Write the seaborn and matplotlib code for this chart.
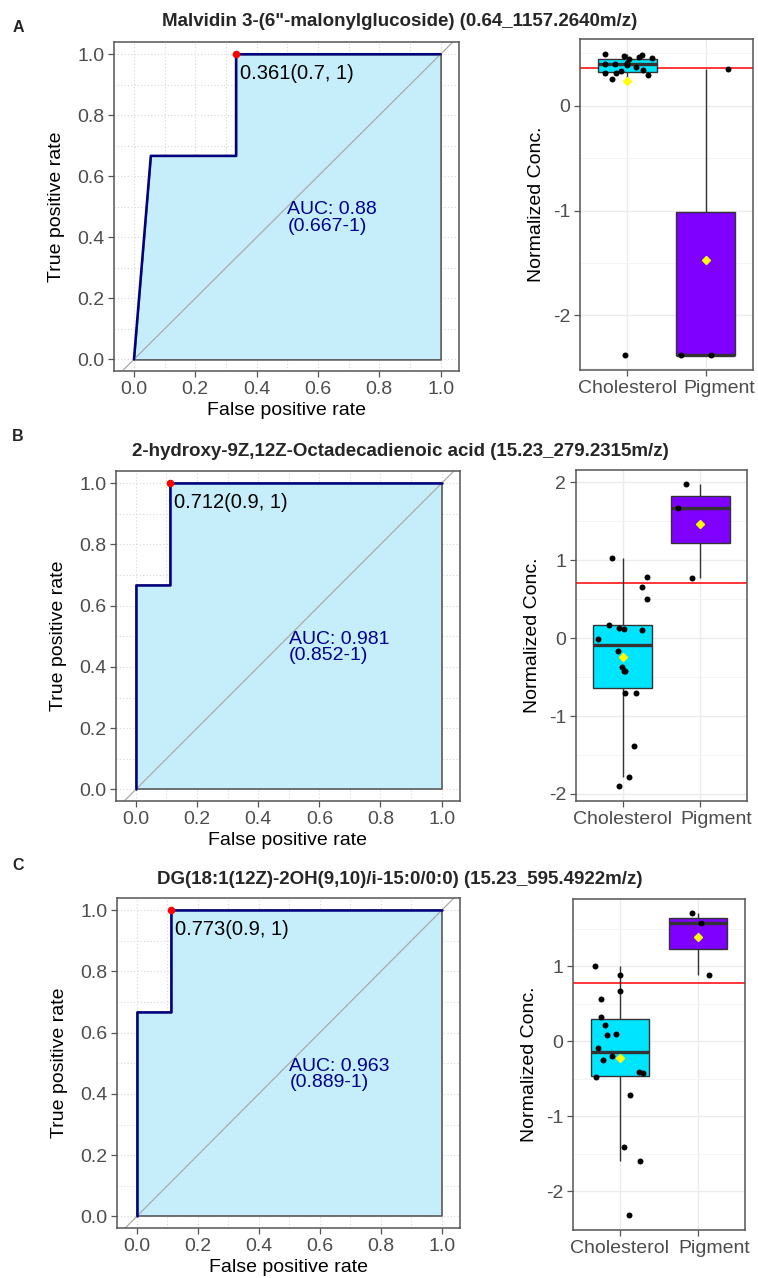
import numpy as np
import pandas as pd
import matplotlib
matplotlib.use("Agg")
import matplotlib.pyplot as plt
import matplotlib.transforms as mtransforms
import seaborn as sns
from matplotlib.ticker import MultipleLocator

# ---- data ----
titles = [
    'Malvidin 3-(6"-malonylglucoside) (0.64_1157.2640m/z)',
    "2-hydroxy-9Z,12Z-Octadecadienoic acid (15.23_279.2315m/z)",
    "DG(18:1(12Z)-2OH(9,10)/i-15:0/0:0) (15.23_595.4922m/z)",
]
panel_letters = ["A", "B", "C"]
groups = ["Cholesterol", "Pigment"]

# ROC curves (false positive rate, true positive rate)
fpr_a = [0.0, 0.055, 0.333, 0.333, 1.0]
tpr_a = [0.0, 0.667, 0.667, 1.0, 1.0]
fpr_b = [0.0, 0.0, 0.111, 0.111, 1.0]
tpr_b = [0.0, 0.667, 0.667, 1.0, 1.0]
fpr_c = [0.0, 0.0, 0.111, 0.111, 1.0]
tpr_c = [0.0, 0.667, 0.667, 1.0, 1.0]

best_fpr = [0.333, 0.111, 0.111]
best_labels = ["0.361(0.7, 1)", "0.712(0.9, 1)", "0.773(0.9, 1)"]
auc_labels = ["AUC: 0.88\n(0.667-1)", "AUC: 0.981\n(0.852-1)", "AUC: 0.963\n(0.889-1)"]
cutoffs = [0.361, 0.712, 0.773]

# normalized concentrations
chol_a = [0.49, 0.48, 0.47, 0.46, 0.45, 0.44, 0.41, 0.40, 0.40, 0.39, 0.365,
          0.34, 0.33, 0.315, 0.31, 0.29, 0.255, -2.38]
pig_a = [0.35, -2.38, -2.38]
chol_b = [0.66, 0.50, 0.107, 0.12, 0.176, -0.01, 0.137, -0.163, -0.42, -0.368,
          -0.42, -0.707, -0.707, -1.39, -1.786, -1.90, 1.036, 0.788]
pig_b = [0.771, 1.979, 1.666]
chol_c = [1.0, 0.889, 0.671, 0.56, 0.32, 0.218, 0.102, 0.089, -0.093, -0.2,
          -0.253, -0.413, -0.427, -0.48, -0.716, -1.409, -1.60, -2.32]
pig_c = [1.573, 0.884, 1.707]

roc_data = [(fpr_a, tpr_a), (fpr_b, tpr_b), (fpr_c, tpr_c)]
box_data = [(chol_a, pig_a), (chol_b, pig_b), (chol_c, pig_c)]
box_ylims = [(-2.52, 0.635), (-2.09, 2.16), (-2.516, 1.898)]
box_yticks = [[-2, -1, 0], [-2, -1, 0, 1, 2], [-2, -1, 0, 1]]

sns.set_theme(style="white")
plt.rcParams["font.family"] = ["Liberation Sans", "DejaVu Sans"]
plt.rcParams["axes.unicode_minus"] = False

W, H = 758, 1278
fig = plt.figure(figsize=(W / 100, H / 100), dpi=100)


def rect(l, t, r, b):
    return [l / W, 1 - b / H, (r - l) / W, (b - t) / H]


roc_rects = [(114, 42, 459, 371), (116, 471, 460, 801), (117, 898, 460, 1228)]
box_rects = [(580, 39, 753, 370), (576, 470, 747, 801), (573, 899, 745, 1230)]
title_y = [22, 451, 879]
letter_y = [28, 437, 866]
pig_shift = [13, 16, 16]

tick_gray = "#4D4D4D"
frame_gray = "#555555"

for i in range(3):
    # ---------- ROC panel ----------
    ax = fig.add_axes(rect(*roc_rects[i]))
    fpr, tpr = roc_data[i]
    ax.set_xlim(-0.065, 1.06)
    ax.set_ylim(-0.038, 1.04)
    ax.xaxis.set_minor_locator(MultipleLocator(0.1))
    ax.yaxis.set_minor_locator(MultipleLocator(0.1))
    ax.grid(True, which="both", color="#D6D6D6", linestyle=(0, (1, 2)), linewidth=0.8)
    ax.set_axisbelow(True)
    ax.fill_between(fpr, tpr, 0, color="#C5EEFA", edgecolor="#5A5A5A", linewidth=1.2, zorder=1)
    ax.axline((0, 0), (1, 1), color="#AAAAAA", linewidth=0.9, zorder=2)
    sns.lineplot(x=fpr, y=tpr, sort=False, estimator=None, color="#000080",
                 linewidth=1.8, ax=ax, zorder=3)
    ax.scatter([best_fpr[i]], [1.0], color="#FF0000", s=30, zorder=5, linewidths=0)
    ax.annotate(best_labels[i], xy=(best_fpr[i], 1.0), xytext=(3, -14),
                textcoords="offset points", ha="left", va="center", fontsize=14.5,
                color="black")
    ax.text(0.5, 0.463, auc_labels[i], ha="left", va="center", fontsize=14,
            color="#00008B", linespacing=0.95)
    ax.set_xticks([0, 0.2, 0.4, 0.6, 0.8, 1.0])
    ax.set_xticklabels(["0.0", "0.2", "0.4", "0.6", "0.8", "1.0"])
    ax.set_yticks([0, 0.2, 0.4, 0.6, 0.8, 1.0])
    ax.set_yticklabels(["0.0", "0.2", "0.4", "0.6", "0.8", "1.0"])
    ax.tick_params(axis="both", which="major", length=4, width=0.9, color=frame_gray,
                   labelcolor=tick_gray, labelsize=14, pad=3, left=True, bottom=True)
    ax.tick_params(which="minor", length=0)
    ax.set_xlabel("False positive rate", fontsize=14, color="black", labelpad=3)
    ax.set_ylabel("True positive rate", fontsize=14, color="black", labelpad=9)
    for s in ax.spines.values():
        s.set_color(frame_gray)
        s.set_linewidth(1.1)

    # ---------- box panel ----------
    bx = fig.add_axes(rect(*box_rects[i]))
    chol, pig = box_data[i]
    df = pd.DataFrame({
        "group": [groups[0]] * len(chol) + [groups[1]] * len(pig),
        "conc": list(chol) + list(pig),
    })
    bx.axhline(cutoffs[i], color="#FF0000", linewidth=1.1, zorder=1)
    sns.boxplot(data=df, x="group", y="conc", hue="group", order=groups,
                palette={"Cholesterol": "#00E5FF", "Pigment": "#8000FF"},
                saturation=1, width=0.75, showfliers=False, showmeans=True,
                showcaps=False, linecolor="#333333", linewidth=1.0, legend=False, ax=bx,
                medianprops={"linewidth": 2.4, "color": "#333333"},
                meanprops={"marker": "D", "markerfacecolor": "#FFFF00",
                           "markeredgecolor": "#FFFF00", "markersize": 4.5},
                boxprops={"zorder": 2}, whiskerprops={"zorder": 2})
    np.random.seed(7 + i)
    sns.stripplot(data=df, x="group", y="conc", order=groups, color="black",
                  size=4.3, jitter=0.33, ax=bx, zorder=4)
    bx.set_xlim(-0.6, 1.6)
    bx.set_ylim(*box_ylims[i])
    bx.set_yticks(box_yticks[i])
    bx.yaxis.set_minor_locator(MultipleLocator(0.5))
    bx.grid(True, which="major", color="#EBEBEB", linewidth=1.0)
    bx.grid(True, which="minor", axis="y", color="#F3F3F3", linewidth=0.6)
    bx.set_axisbelow(True)
    bx.tick_params(axis="both", which="major", length=4, width=0.9, color=frame_gray,
                   labelcolor=tick_gray, labelsize=14, pad=3, left=True, bottom=True)
    bx.tick_params(which="minor", length=0)
    # second category label sits a little right of its tick, as in the source
    lbls = bx.get_xticklabels()
    lbls[1].set_transform(lbls[1].get_transform() +
                          mtransforms.ScaledTranslation(pig_shift[i] / 100, 0,
                                                        fig.dpi_scale_trans))
    bx.set_xlabel("")
    bx.set_ylabel("Normalized Conc.", fontsize=14, color="black", labelpad=6)
    for s in bx.spines.values():
        s.set_color(frame_gray)
        s.set_linewidth(1.1)

    fig.text(400 / W, 1 - title_y[i] / H, titles[i], ha="center", va="center",
             fontsize=13.5, fontweight="bold")
    fig.text(18 / W, 1 - letter_y[i] / H, panel_letters[i], ha="center", va="center",
             fontsize=11.5, fontweight="bold")

fig.savefig("out.png", dpi=100)
